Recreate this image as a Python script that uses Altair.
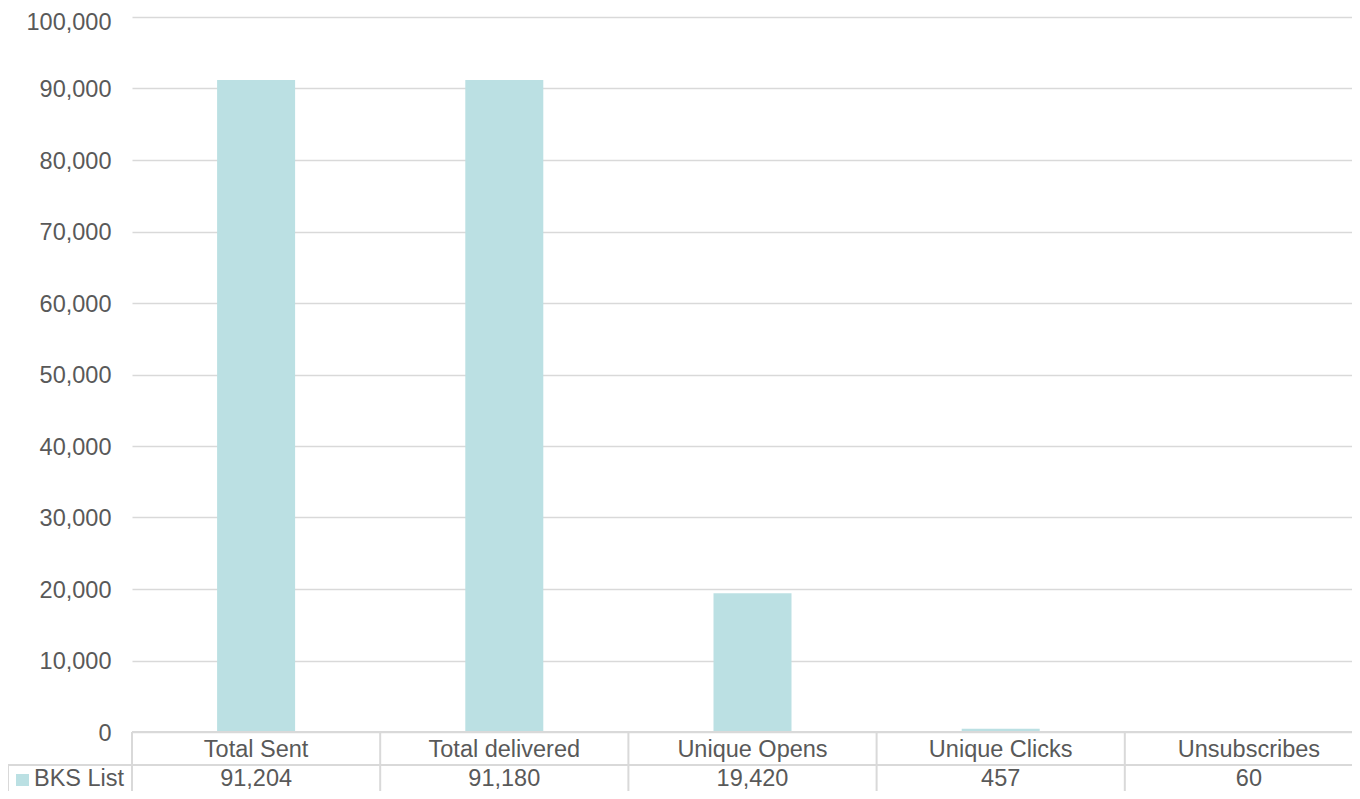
import altair as alt
import pandas as pd

categories = ["Total Sent", "Total delivered", "Unique Opens", "Unique Clicks", "Unsubscribes"]
values = [91204, 91180, 19420, 457, 60]
series_name = "BKS List"
y_ticks = list(range(0, 100001, 10000))

df = pd.DataFrame({"category": categories, "value": values})
df["label"] = [f"{v:,}" for v in values]
one = pd.DataFrame({"k": [0]})

FONT = "Liberation Sans"
FS = 23.5
TXT = "#595959"
LINE = "#d9d9d9"
BAR = "#bbe0e3"

xscale = alt.Scale(domain=categories, range=[0, 1241], paddingInner=0, paddingOuter=0)
yscale = alt.Scale(domain=[0, 100000], nice=False)
xenc = alt.X("category:N", scale=xscale, axis=None, sort=categories)

bars = alt.Chart(df).mark_bar(width=78, color=BAR).encode(
    x=xenc,
    y=alt.Y("value:Q", scale=yscale,
            axis=alt.Axis(values=y_ticks, format=",d", grid=True, gridColor=LINE, gridWidth=1.5,
                          domain=False, ticks=False, labelPadding=21, labelFontSize=FS,
                          labelColor=TXT, labelFont=FONT, labelBaseline="alphabetic",
                          labelOffset={"condition": {"test": "datum.value >= 100000", "value": 12}, "value": 8},
                          title=None)),
)

vlines = alt.Chart(df).mark_rule(color=LINE, strokeWidth=2).encode(
    x=alt.X("category:N", scale=xscale, axis=None, sort=categories, bandPosition=0),
    y=alt.value(715), y2=alt.value(800),
)

header = alt.Chart(df).mark_text(font=FONT, fontSize=FS, color=TXT, baseline="alphabetic", align="center").encode(
    x=alt.X("category:N", scale=xscale, axis=None, sort=categories, bandPosition=0.5),
    y=alt.value(740), text="category:N",
)

vals = alt.Chart(df).mark_text(font=FONT, fontSize=FS, color=TXT, baseline="alphabetic", align="center").encode(
    x=alt.X("category:N", scale=xscale, axis=None, sort=categories, bandPosition=0.5),
    y=alt.value(769), text="label:N",
)

hline_top = alt.Chart(one).mark_rule(color=LINE, strokeWidth=2).encode(
    x=alt.value(0), x2=alt.value(1241), y=alt.value(715))
hline_mid = alt.Chart(one).mark_rule(color=LINE, strokeWidth=2).encode(
    x=alt.value(-124), x2=alt.value(1241), y=alt.value(748))
vline_left = alt.Chart(one).mark_rule(color=LINE, strokeWidth=2).encode(
    x=alt.value(-124), y=alt.value(748), y2=alt.value(800))

swatch = alt.Chart(one).mark_rect(color=BAR).encode(
    x=alt.value(-116), x2=alt.value(-103), y=alt.value(757), y2=alt.value(769))
legend_text = alt.Chart(pd.DataFrame({"name": [series_name]})).mark_text(
    font=FONT, fontSize=FS, color=TXT, baseline="alphabetic", align="left").encode(
    x=alt.value(-98), y=alt.value(769), text="name:N")

chart = alt.layer(bars, vlines, header, vals, hline_top, hline_mid, vline_left, swatch, legend_text).properties(
    width=1220, height=715,
    padding={"left": 124, "top": 9, "right": 0, "bottom": 59},
    autosize=alt.AutoSizeParams(type="none"),
).configure_view(stroke=None)

chart.save("out.html", embed_options={"renderer": "svg", "actions": False})
